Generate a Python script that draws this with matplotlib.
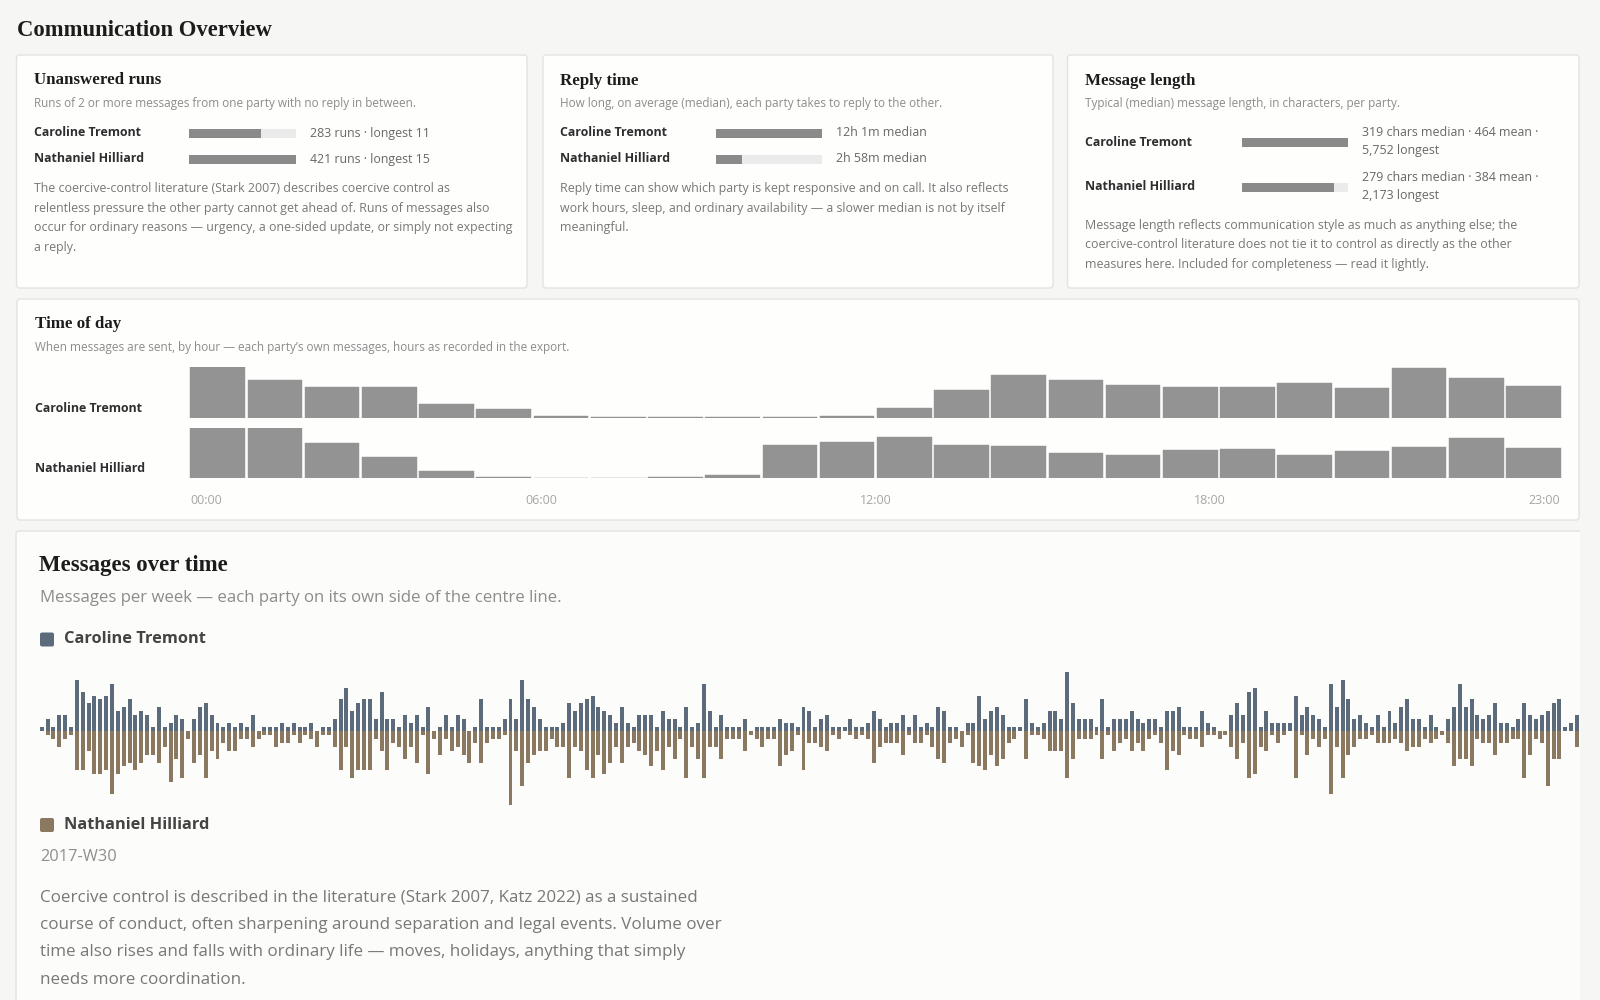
import matplotlib
matplotlib.use("Agg")
import matplotlib.pyplot as plt
from matplotlib import font_manager
from matplotlib.patches import FancyBboxPatch, Rectangle
import numpy as np

# ---- data -------------------------------------------------------------
parties = ["Caroline Tremont", "Nathaniel Hilliard"]

runs_count = [283, 421]
runs_longest = [11, 15]

reply_minutes = [721, 178]           # 12h 1m, 2h 58m
reply_labels = ["12h 1m median", "2h 58m median"]

len_median = [319, 279]
len_mean = [464, 384]
len_longest = ["5,752", "2,173"]

hours = list(range(24))
hour_ticks = ["00:00", "06:00", "12:00", "18:00", "23:00"]
tod_caroline = [154, 116, 95, 93, 43, 28, 6, 3, 3, 3, 3, 6,
                30, 85, 129, 114, 99, 95, 95, 105, 90, 151, 120, 97]
tod_nathaniel = [152, 150, 106, 63, 21, 4, 2, 2, 4, 10, 100, 109,
                 123, 100, 96, 75, 70, 85, 89, 69, 83, 93, 120, 91]

weekly_caroline = [
    1, 3, 1, 4, 4, 1, 13, 10, 7, 9, 8, 9, 12, 5, 6, 8, 4, 5, 4, 1,
    6, 1, 2, 4, 3, 0, 3, 6, 7, 4, 2, 1, 2, 1, 2, 1, 4, 0, 1, 1,
    1, 2, 1, 2, 1, 1, 2, 0, 1, 1, 3, 8, 11, 5, 7, 8, 8, 3, 10, 3,
    3, 1, 4, 2, 4, 1, 6, 0, 1, 4, 1, 4, 3, 0, 1, 8, 1, 1, 1, 3,
    8, 3, 13, 8, 6, 3, 1, 1, 1, 2, 7, 5, 7, 8, 9, 6, 5, 4, 2, 6,
    2, 1, 4, 4, 4, 1, 5, 3, 3, 1, 6, 1, 2, 12, 5, 1, 4, 1, 1, 1,
    3, 0, 1, 1, 1, 1, 3, 2, 2, 1, 6, 5, 1, 3, 4, 1, 1, 1, 3, 1,
    1, 2, 5, 3, 1, 2, 2, 4, 1, 4, 1, 2, 1, 6, 5, 1, 1, 0, 2, 2,
    9, 3, 5, 6, 4, 1, 1, 1, 8, 2, 1, 2, 5, 5, 3, 15, 7, 3, 3, 3,
    1, 8, 1, 3, 3, 3, 5, 3, 2, 3, 3, 1, 5, 5, 6, 1, 1, 1, 5, 2,
    1, 0, 0, 4, 7, 4, 10, 11, 1, 5, 2, 2, 2, 2, 9, 4, 6, 4, 3, 1,
    12, 6, 13, 8, 3, 4, 2, 1, 4, 1, 5, 2, 6, 8, 3, 3, 1, 4, 1, 0,
    3, 6, 12, 6, 8, 4, 3, 4, 7, 2, 2, 1, 3, 7, 4, 3, 4, 5, 7, 8,
    1, 2, 4, 4,
]
weekly_nathaniel = [
    0, 1, 2, 4, 2, 1, 10, 10, 5, 11, 11, 10, 16, 11, 9, 8, 10, 8, 6, 6,
    8, 4, 13, 7, 12, 2, 8, 6, 12, 5, 7, 3, 5, 5, 2, 2, 4, 2, 1, 1,
    4, 3, 3, 1, 3, 1, 2, 4, 1, 1, 4, 10, 4, 12, 10, 10, 10, 2, 5, 10,
    3, 4, 7, 4, 8, 1, 11, 2, 6, 2, 5, 4, 6, 8, 3, 8, 3, 2, 2, 1,
    19, 5, 14, 8, 6, 5, 5, 2, 4, 4, 12, 4, 5, 10, 12, 6, 11, 8, 4, 8,
    4, 3, 5, 6, 9, 5, 10, 4, 7, 2, 12, 4, 7, 12, 4, 4, 7, 2, 2, 2,
    5, 1, 2, 4, 2, 2, 9, 6, 5, 1, 10, 3, 3, 4, 5, 1, 2, 0, 1, 2,
    1, 2, 8, 4, 3, 3, 3, 6, 1, 3, 3, 1, 4, 7, 8, 3, 2, 4, 1, 8,
    9, 10, 6, 9, 7, 3, 2, 0, 7, 1, 1, 2, 5, 5, 5, 12, 7, 2, 2, 2,
    1, 7, 1, 5, 3, 2, 5, 3, 5, 2, 1, 3, 10, 5, 6, 1, 2, 2, 4, 1,
    1, 2, 1, 4, 7, 3, 12, 11, 4, 5, 1, 3, 1, 0, 12, 1, 6, 2, 4, 2,
    16, 4, 12, 6, 4, 2, 2, 1, 3, 3, 3, 2, 3, 5, 4, 4, 2, 3, 2, 1,
    3, 9, 7, 7, 9, 2, 3, 3, 6, 3, 3, 2, 2, 12, 6, 2, 3, 14, 7, 7,
    0, 0, 4, 3,
]
week_label = "2017-W30"

# ---- style ------------------------------------------------------------
PAGE = "#f6f6f4"
CARD = "#fefefd"
EDGE = "#e3e3e0"
HEAD = "#1c1c1c"
SUB = "#8c8c8c"
BODY = "#787878"
NAME = "#2e2e2e"
VAL = "#686868"
TRACK = "#ebebeb"
FILL = "#8a8a8a"
TOD = "#939393"
UP = "#5b6b7b"
DOWN = "#8b7861"

SERIF = ["Liberation Serif", "DejaVu Serif"]


def pick_sans():
    # first candidate family that ships a static bold face
    for fam in ["Noto Sans", "Open Sans", "Roboto", "Inter", "Lato"]:
        try:
            path = font_manager.findfont(
                font_manager.FontProperties(family=fam, weight="bold"),
                fallback_to_default=False)
        except Exception:
            continue
        name = path.lower().split("/")[-1]
        if "[" not in name and ("bold" in name or "semibold" in name):
            return [fam, "DejaVu Sans"]
    return ["DejaVu Sans"]


SANS = pick_sans()

W, H = 1600, 1000
fig = plt.figure(figsize=(16, 10), dpi=100, facecolor=PAGE)
bg = fig.add_axes([0, 0, 1, 1])
bg.set_xlim(0, W)
bg.set_ylim(H, 0)
bg.axis("off")
bg.set_facecolor(PAGE)


def ax_at(x0, y0, x1, y1):
    a = fig.add_axes([x0 / W, 1 - y1 / H, (x1 - x0) / W, (y1 - y0) / H])
    a.axis("off")
    return a


def card(x0, y0, x1, y1, face=CARD):
    bg.add_patch(FancyBboxPatch((x0, y0), x1 - x0, y1 - y0,
                                boxstyle="round,pad=0,rounding_size=3",
                                fc=face, ec=EDGE, lw=1.0))


def txt(x, y, s, size, color, weight="normal", family=None, **kw):
    bg.text(x, y, s, fontsize=size, color=color, fontweight=weight,
            family=family or SANS, va="center", ha=kw.pop("ha", "left"), **kw)


def progress(x0, x1, y, value, vmax):
    a = ax_at(x0, y - 4.5, x1, y + 4.5)
    a.barh([0], [vmax], height=1, color=TRACK)
    a.barh([0], [value], height=1, color=FILL)
    a.set_xlim(0, vmax)
    a.set_ylim(-0.5, 0.5)


SUBSZ = 8.5
BODYSZ = 8.9
NAMESZ = 8.9

# ---- header -----------------------------------------------------------
txt(17, 31, "Communication Overview", 16.3, HEAD, "bold", SERIF)

# ---- card 1: unanswered runs ------------------------------------------
card(16.5, 55, 527, 288)
txt(33.7, 80, "Unanswered runs", 12.2, HEAD, "bold", SERIF)
txt(33.7, 103, "Runs of 2 or more messages from one party with no reply in between.", SUBSZ, SUB)
for i, yy in enumerate([133, 159]):
    txt(33.7, yy, parties[i], NAMESZ, NAME, "bold")
    progress(189, 296, yy, runs_count[i], max(runs_count))
    txt(310, yy, f"{runs_count[i]} runs \u00b7 longest {runs_longest[i]}", 8.9, VAL)
for k, line in enumerate([
        "The coercive-control literature (Stark 2007) describes coercive control as",
        "relentless pressure the other party cannot get ahead of. Runs of messages also",
        "occur for ordinary reasons \u2014 urgency, a one-sided update, or simply not expecting",
        "a reply."]):
    txt(33.7, 188.5 + 19.6 * k, line, BODYSZ, BODY)

# ---- card 2: reply time -----------------------------------------------
card(543, 55, 1053, 288)
txt(559.6, 81, "Reply time", 12.2, HEAD, "bold", SERIF)
txt(559.6, 103, "How long, on average (median), each party takes to reply to the other.", SUBSZ, SUB)
for i, yy in enumerate([133, 159]):
    txt(559.6, yy, parties[i], NAMESZ, NAME, "bold")
    progress(716, 822, yy, reply_minutes[i], max(reply_minutes))
    txt(836, yy, reply_labels[i], 8.9, VAL)
for k, line in enumerate([
        "Reply time can show which party is kept responsive and on call. It also reflects",
        "work hours, sleep, and ordinary availability \u2014 a slower median is not by itself",
        "meaningful."]):
    txt(559.6, 188.5 + 19.6 * k, line, BODYSZ, BODY)

# ---- card 3: message length -------------------------------------------
card(1067.5, 55, 1579, 288)
txt(1085, 81, "Message length", 12.2, HEAD, "bold", SERIF)
txt(1085, 103, "Typical (median) message length, in characters, per party.", SUBSZ, SUB)
for i, yy in enumerate([142, 187]):
    txt(1085, yy, parties[i], NAMESZ, NAME, "bold")
    progress(1241.5, 1347.5, yy, len_median[i], max(len_median))
    txt(1361.6, yy - 9.5, f"{len_median[i]} chars median \u00b7 {len_mean[i]} mean \u00b7", 8.9, VAL)
    txt(1361.6, yy + 8.5, f"{len_longest[i]} longest", 8.9, VAL)
for k, line in enumerate([
        "Message length reflects communication style as much as anything else; the",
        "coercive-control literature does not tie it to control as directly as the other",
        "measures here. Included for completeness \u2014 read it lightly."]):
    txt(1085, 225 + 19.6 * k, line, BODYSZ, BODY)

# ---- time of day ------------------------------------------------------
card(17, 299, 1579, 520)
txt(34.7, 324, "Time of day", 12.2, HEAD, "bold", SERIF)
txt(34.7, 348, "When messages are sent, by hour \u2014 each party\u2019s own messages, hours as recorded in the export.", SUBSZ, SUB)
for vals, top, base, name, ly in [(tod_caroline, 367, 418.3, parties[0], 408),
                                  (tod_nathaniel, 427.7, 478.3, parties[1], 468)]:
    txt(34.7, ly, name, NAMESZ, NAME, "bold")
    a = ax_at(189, top, 1562, base)
    a.bar(np.array(hours) + 0.025, vals, width=0.955, align="edge", color=TOD,
          edgecolor=TOD, linewidth=0.3)
    a.set_xlim(0, 24)
    a.set_ylim(0, max(vals))
tick_x = np.linspace(206.5, 1544.5, len(hour_ticks))
for x, lab in zip(tick_x, hour_ticks):
    txt(x, 500.5, lab, 9, "#a6a6a6", ha="center")

# ---- messages over time -----------------------------------------------
card(16, 531, 1640, 1040, face="#fcfcfa")
bg.add_patch(Rectangle((1580, 520), 20, 480, fc=PAGE, ec="none", zorder=5))
txt(39, 566, "Messages over time", 16.5, HEAD, "bold", SERIF)
txt(40, 598, "Messages per week \u2014 each party on its own side of the centre line.", 12.1, SUB)
bg.add_patch(FancyBboxPatch((40, 632.5), 14, 14, boxstyle="round,pad=0,rounding_size=2",
                            fc=UP, ec="none"))
txt(64, 639, parties[0], 11.8, "#444444", "bold")
bg.add_patch(FancyBboxPatch((40, 818), 14, 14, boxstyle="round,pad=0,rounding_size=2",
                            fc=DOWN, ec="none"))
txt(64, 825, parties[1], 11.8, "#444444", "bold")
txt(40, 857, week_label, 11.8, "#8e8e8e")
for k, line in enumerate([
        "Coercive control is described in the literature (Stark 2007, Katz 2022) as a sustained",
        "course of conduct, often sharpening around separation and legal events. Volume over",
        "time also rises and falls with ordinary life \u2014 moves, holidays, anything that simply",
        "needs more coordination."]):
    txt(40, 898 + 27.2 * k, line, 12.25, BODY)

pitch = 5.86
unit = 3.9
x_left, x_right = 38.2, 1580
y_top, y_bot, y_base = 660, 810, 731
wa = ax_at(x_left, y_top, x_right, y_bot)
idx = np.arange(len(weekly_caroline))
wa.bar(idx, weekly_caroline, width=0.68, bottom=0.08, color=UP, linewidth=0)
wa.bar(idx, -np.array(weekly_nathaniel), width=0.68, bottom=-0.08, color=DOWN, linewidth=0)
wa.set_xlim((x_left - 41.7) / pitch, (x_right - 41.7) / pitch)
wa.set_ylim(-(y_bot - y_base) / unit, (y_base - y_top) / unit)

fig.savefig("out.png", dpi=100, facecolor=PAGE)
